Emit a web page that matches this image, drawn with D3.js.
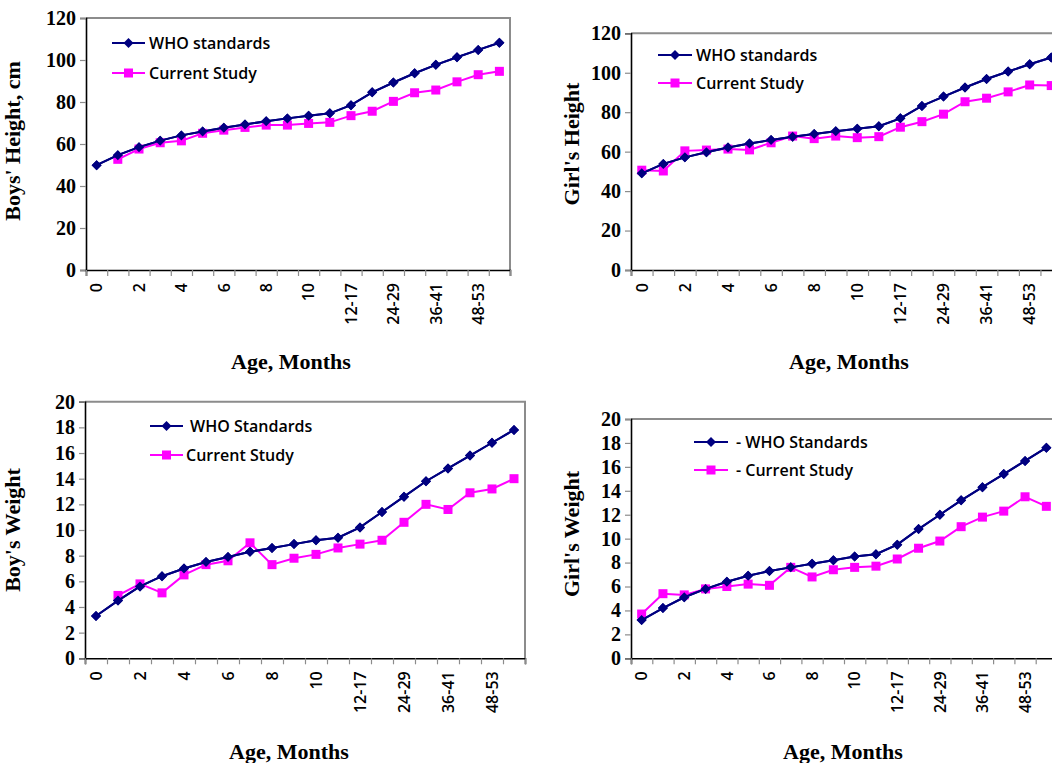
<!DOCTYPE html>
<html><head><meta charset="utf-8">
<script src="https://cdn.jsdelivr.net/npm/d3@7"></script>
<style>body{margin:0;background:#fff}svg{display:block}</style>
</head><body>
<svg id="c" width="1052" height="763"></svg>
<script>
// ---------- DATA ----------
const ageCategories = ["0","1","2","3","4","5","6","7","8","9","10","11","12-17","18-23","24-29","30-35","36-41","42-47","48-53","54-59"];
const labeledCategories = ["0","2","4","6","8","10","12-17","24-29","36-41","48-53"];
const heightTicks = [0,20,40,60,80,100,120];
const weightTicks = [0,2,4,6,8,10,12,14,16,18,20];

const boysHeightWHO = [49.9,54.7,58.5,61.6,64.1,66.0,67.7,69.3,70.8,72.2,73.5,74.6,78.5,84.6,89.3,93.7,97.7,101.3,104.8,108.2];
const boysHeightStudy = [null,52.7,57.6,60.6,61.5,65.1,66.6,67.9,69.0,69.0,69.8,70.3,73.5,75.6,80.3,84.4,85.7,89.6,93.0,94.6];

const girlsHeightWHO = [49.0,53.8,57.1,59.7,62.1,64.1,65.9,67.5,68.9,70.3,71.6,72.9,76.9,83.2,87.9,92.5,96.8,100.6,104.3,107.7];
const girlsHeightStudy = [50.6,50.2,60.4,60.8,61.3,60.9,64.5,67.9,66.6,67.9,67.1,67.6,72.4,75.2,79.0,85.3,87.1,90.3,93.8,93.5];

const boysWeightWHO = [3.3,4.5,5.6,6.4,7.0,7.5,7.9,8.3,8.6,8.9,9.2,9.4,10.2,11.4,12.6,13.8,14.8,15.8,16.8,17.8];
const boysWeightStudy = [null,4.9,5.8,5.1,6.5,7.3,7.6,9.0,7.3,7.8,8.1,8.6,8.9,9.2,10.6,12.0,11.6,12.9,13.2,14.0];

const girlsWeightWHO = [3.2,4.2,5.1,5.8,6.4,6.9,7.3,7.6,7.9,8.2,8.5,8.7,9.5,10.8,12.0,13.2,14.3,15.4,16.5,17.6];
const girlsWeightStudy = [3.7,5.4,5.3,5.8,6.0,6.2,6.1,7.6,6.8,7.4,7.6,7.7,8.3,9.2,9.8,11.0,11.8,12.3,13.5,12.7];

const legendHeight = ["WHO standards","Current Study"];
const legendBoysWeight = ["WHO Standards","Current Study"];
const legendGirlsWeight = ["- WHO Standards","- Current Study"];
const yTitles = ["Boys' Height, cm","Girl's Height","Boy's Weight","Girl's Weight"];
const xTitle = "Age, Months";

// ---------- LAYOUT / STYLE ----------
const svg = d3.select("#c");
const NAVY = "#000080", MAG = "#FF00FF";
const serif = "'Liberation Serif','Times New Roman',serif";
const sans = "'Open Sans','Liberation Sans',sans-serif";

const panels = [
  {left:86, right:510, top:18, bottom:270, max:120, ticks:heightTicks, who:boysHeightWHO, study:boysHeightStudy,
   legend:legendHeight, title:yTitles[0], ytx:20, yty:141, xtx:291, xty:369,
   leg:{x1:112,x2:145,tx:149,y1:43,y2:73}},
  {left:631, right:1062, top:33.3, bottom:270, max:120, ticks:heightTicks, who:girlsHeightWHO, study:girlsHeightStudy,
   legend:legendHeight, title:yTitles[1], ytx:579, yty:144, xtx:849, xty:369,
   leg:{x1:658,x2:692,tx:696,y1:55,y2:83}},
  {left:85, right:525, top:401.7, bottom:658.3, max:20, ticks:weightTicks, who:boysWeightWHO, study:boysWeightStudy,
   legend:legendBoysWeight, title:yTitles[2], ytx:20, yty:530, xtx:289, xty:759,
   leg:{x1:150,x2:183,tx:190,tx2:186,y1:426,y2:455}},
  {left:631, right:1057, top:419, bottom:658.3, max:20, ticks:weightTicks, who:girlsWeightWHO, study:girlsWeightStudy,
   legend:legendGirlsWeight, title:yTitles[3], ytx:579, yty:534, xtx:843, xty:759,
   leg:{x1:694,x2:728,tx:736,y1:442,y2:470}}
];

function diamond(g, x, y, r){
  g.append("path").attr("d", `M${x},${y-r}L${x+r},${y}L${x},${y+r}L${x-r},${y}Z`).attr("fill",NAVY);
}
function square(g, x, y, s){
  g.append("rect").attr("x",x-s/2).attr("y",y-s/2).attr("width",s).attr("height",s).attr("fill",MAG);
}

panels.forEach(p => {
  const g = svg.append("g");
  const x = d3.scaleBand().domain(ageCategories).range([p.left, p.right]).padding(0);
  const xb = d3.scaleLinear().domain([0, ageCategories.length]).range([p.left, p.right]);
  const y = d3.scaleLinear().domain([0, p.max]).range([p.bottom, p.top]);
  const cx = c => x(c) + x.bandwidth()/2;

  // frame (top/right gray)
  g.append("path").attr("d", `M${p.left},${p.top}H${p.right}V${p.bottom}`)
    .attr("fill","none").attr("stroke","#8c8c8c").attr("stroke-width",2);

  // y axis
  const ya = g.append("g").attr("transform",`translate(${p.left},0)`)
    .call(d3.axisLeft(y).tickValues(p.ticks).tickSize(6).tickPadding(4).tickFormat(d3.format("d")));
  ya.select(".domain").attr("stroke","#000").attr("stroke-width",1.6);
  ya.selectAll(".tick line").attr("stroke","#8c8c8c").attr("stroke-width",1.2);
  ya.selectAll(".tick text").attr("font-family",serif).attr("font-weight","bold").attr("font-size",20).attr("fill","#000");

  // x axis tick marks at category boundaries
  const xa = g.append("g").attr("transform",`translate(0,${p.bottom})`)
    .call(d3.axisBottom(xb).tickValues(d3.range(0, ageCategories.length+1)).tickSize(6).tickFormat(""));
  xa.select(".domain").attr("stroke","#000").attr("stroke-width",1.6);
  xa.selectAll(".tick line").attr("stroke","#8c8c8c").attr("stroke-width",1.2);

  // x labels (rotated)
  const xl = g.append("g").attr("transform",`translate(0,${p.bottom})`)
    .call(d3.axisBottom(x).tickValues(labeledCategories).tickSize(0).tickPadding(0));
  xl.select(".domain").remove();
  xl.selectAll(".tick text")
    .attr("transform","rotate(-90)")
    .attr("x",-13).attr("y",0).attr("dy","0.36em")
    .attr("text-anchor","end")
    .attr("font-family",sans).attr("font-weight",600).attr("font-size",16).attr("fill","#000");

  // lines
  const line = d3.line().defined(d => d[1] != null).x(d => cx(d[0])).y(d => y(d[1]));
  const whoPts = ageCategories.map((c,i) => [c, p.who[i]]);
  const stPts = ageCategories.map((c,i) => [c, p.study[i]]);
  g.append("path").datum(stPts).attr("d", line).attr("fill","none").attr("stroke",MAG).attr("stroke-width",2);
  g.append("path").datum(whoPts).attr("d", line).attr("fill","none").attr("stroke",NAVY).attr("stroke-width",2);
  whoPts.forEach(d => { if (d[1]!=null) diamond(g, cx(d[0]), y(d[1]), 5); });
  stPts.forEach(d => { if (d[1]!=null) square(g, cx(d[0]), y(d[1]), 9); });
  g.append("path").datum(whoPts).attr("d", line).attr("fill","none").attr("stroke",NAVY).attr("stroke-width",2);
  whoPts.forEach(d => { if (d[1]!=null) diamond(g, cx(d[0]), y(d[1]), 5); });

  // legend
  const L = p.leg;
  g.append("line").attr("x1",L.x1).attr("x2",L.x2).attr("y1",L.y1).attr("y2",L.y1).attr("stroke",NAVY).attr("stroke-width",2);
  diamond(g, (L.x1+L.x2)/2, L.y1, 5);
  g.append("text").attr("x",L.tx).attr("y",L.y1).attr("dy","0.36em").text(p.legend[0])
    .attr("font-family",sans).attr("font-weight",600).attr("font-size",16);
  g.append("line").attr("x1",L.x1).attr("x2",L.x2).attr("y1",L.y2).attr("y2",L.y2).attr("stroke",MAG).attr("stroke-width",2);
  square(g, (L.x1+L.x2)/2, L.y2, 9);
  g.append("text").attr("x",L.tx2 || L.tx).attr("y",L.y2).attr("dy","0.36em").text(p.legend[1])
    .attr("font-family",sans).attr("font-weight",600).attr("font-size",16);

  // titles
  g.append("text").attr("transform",`translate(${p.ytx},${p.yty}) rotate(-90)`).attr("text-anchor","middle")
    .text(p.title).attr("font-family",serif).attr("font-weight","bold").attr("font-size",22);
  g.append("text").attr("x",p.xtx).attr("y",p.xty).attr("text-anchor","middle")
    .text(xTitle).attr("font-family",serif).attr("font-weight","bold").attr("font-size",22);
});
</script>
</body></html>
